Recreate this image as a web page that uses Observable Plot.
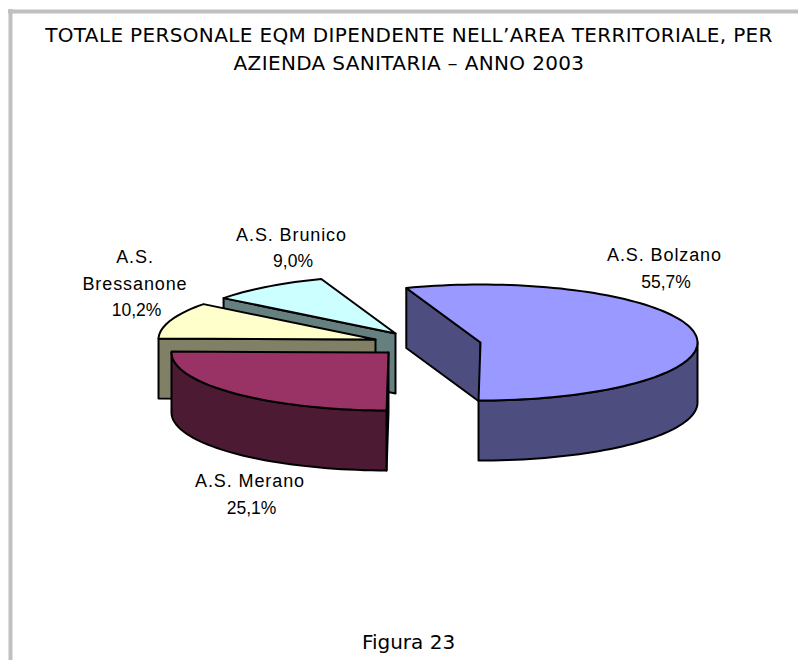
<!DOCTYPE html>
<html><head><meta charset="utf-8">
<script src="https://cdn.jsdelivr.net/npm/d3@7"></script>
<script src="https://cdn.jsdelivr.net/npm/@observablehq/plot@0.6"></script>
<style>
html,body{margin:0;padding:0;background:#fff}
svg{display:block}
g[aria-description="title"] text{letter-spacing:.35px}
g[aria-description="names"] text{letter-spacing:.9px}
</style></head><body><div id="chart"></div>
<script>
const names = ["A.S. Bolzano", "A.S. Merano", "A.S. Bressanone", "A.S. Brunico"];
const shares = [55.7, 25.1, 10.2, 9.0];
const shareLabels = ["55,7%", "25,1%", "10,2%", "9,0%"];
const topColors = ["#9999FF", "#993366", "#FFFFCC", "#CCFFFF"];
const sideColors = ["#4D4D80", "#4D1A33", "#808066", "#668080"];
const titleLines = ["TOTALE PERSONALE EQM DIPENDENTE NELL’AREA TERRITORIALE, PER", "AZIENDA SANITARIA – ANNO 2003"];
const caption = "Figura 23";

// Pie projection
const W = 798, H = 660, rx = 217, ry = 58, depth = 60, startAngle = -20;
const apexes = [[480, 342], [388, 352], [375, 339], [395, 333]]; // exploded slice centres
const rad = a => a * Math.PI / 180;
const at = (c, a, dz = 0) => ({x: c[0] + rx * Math.sin(rad(a)), y: c[1] - ry * Math.cos(rad(a)) + dz});
const arc = (c, a0, a1, dz = 0) => {
  const n = Math.max(2, Math.ceil(Math.abs(a1 - a0) / 2));
  return d3.range(n + 1).map(i => at(c, a0 + (a1 - a0) * i / n, dz));
};
const pt = (c, dz = 0) => ({x: c[0], y: c[1] + dz});

// slice angles from the shares
let acc = startAngle;
const slices = shares.map((s, i) => {
  const a0 = acc, a1 = acc + s * 3.6; acc = a1;
  return {i, a0, a1, c: apexes[i]};
});

const polys = [];
const add = (points, fill) => polys.push({points: [...points, points[0]], fill});
// cut face of the wedge at angle a, from centre to rim
const face = (s, a) => [pt(s.c), at(s.c, a), at(s.c, a, depth), pt(s.c, depth)];
const rim = (s, a0, a1) => [...arc(s.c, a0, a1), ...arc(s.c, a1, a0, depth)];
const wedgeTop = s => [pt(s.c), ...arc(s.c, s.a0, s.a1)];

const [bol, mer, bre, bru] = slices;
// painter's order: back slices first
add(face(bru, bru.a0), sideColors[3]);
add(wedgeTop(bru), topColors[3]);
add(face(bre, bre.a0), sideColors[2]);
add(wedgeTop(bre), topColors[2]);
add(face(mer, mer.a0), sideColors[1]);
add(rim(mer, mer.a0, 270), sideColors[1]);
add(wedgeTop(mer), topColors[1]);
add(face(bol, bol.a0), sideColors[0]);
add(rim(bol, 90, bol.a1), sideColors[0]);
add(wedgeTop(bol), topColors[0]);

const polyMarks = polys.map(p => Plot.line(p.points, {
  x: "x", y: "y", fill: p.fill, stroke: "#000", strokeWidth: 2,
  strokeLinejoin: "round", curve: "linear"
}));

// Label layout: centre x, first line y
const labelX = [664, 249.5, 134.5, 291];
const nameLines = [["A.S. Bolzano"], ["A.S. Merano"], ["A.S.", "Bressanone"], ["A.S. Brunico"]];
const nameY = [255, 481, 257, 234.5];
const lineGap = 26.5;
const nameRows = [], pctRows = [];
names.forEach((n, i) => {
  nameLines[i].forEach((t, k) => nameRows.push({t, x: labelX[i], y: nameY[i] + k * lineGap}));
  pctRows.push({t: shareLabels[i], x: labelX[i] + 1.5, y: nameY[i] + nameLines[i].length * lineGap});
});
const titleRows = titleLines.map((t, k) => ({t, x: 408.5, y: 35.5 + k * 27.5}));

const chart = Plot.plot({
  width: W, height: H, margin: 0,
  x: {domain: [0, W], range: [0, W], axis: null},
  y: {domain: [0, H], range: [0, H], axis: null},
  marks: [
    Plot.ruleY([11], {x1: 8, x2: W, stroke: "#C0C0C0", strokeWidth: 4}),
    Plot.ruleX([10], {y1: 9, y2: H, stroke: "#C0C0C0", strokeWidth: 4}),
    ...polyMarks,
    Plot.text(titleRows, {x: "x", y: "y", text: "t", fontFamily: "DejaVu Sans", fontSize: 20, fill: "#000", ariaDescription: "title"}),
    Plot.text([{t: caption}], {x: () => 408, y: () => 642, text: "t", fontFamily: "DejaVu Sans", fontSize: 20, fill: "#000", ariaDescription: "caption"}),
    Plot.text(nameRows, {x: "x", y: "y", text: "t", fontFamily: "Liberation Sans", fontSize: 18, fill: "#000", ariaDescription: "names"}),
    Plot.text(pctRows, {x: "x", y: "y", text: "t", fontFamily: "Liberation Sans", fontSize: 17.5, fill: "#000", ariaDescription: "percent"})
  ]
});
document.getElementById("chart").appendChild(chart);
</script></body></html>
